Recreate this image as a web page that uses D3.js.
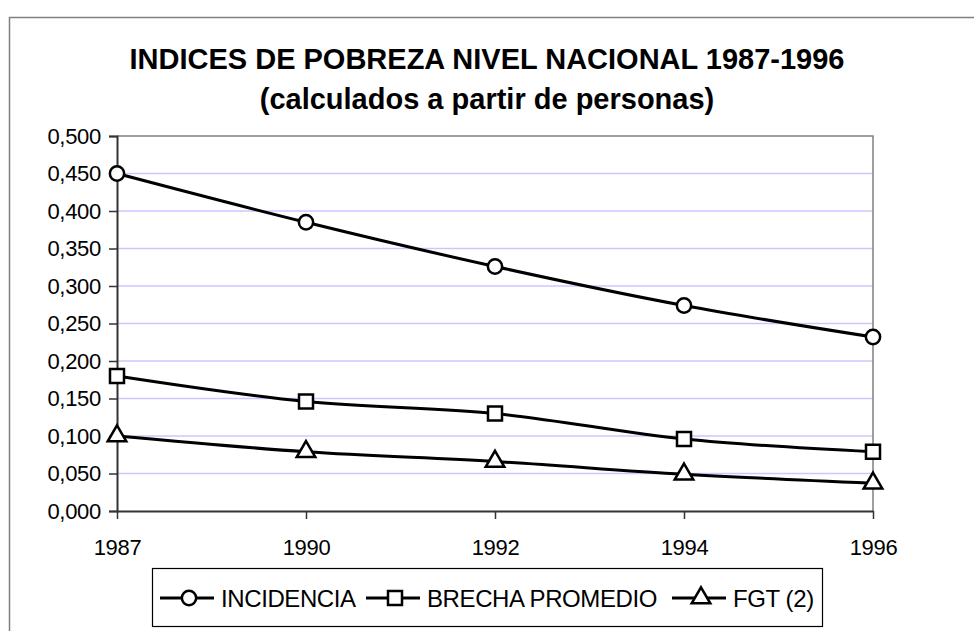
<!DOCTYPE html>
<html>
<head>
<meta charset="utf-8">
<script src="https://cdn.jsdelivr.net/npm/d3@7"></script>
<style>
  body { margin: 0; background: #fff; }
  svg { display: block; font-family: "Liberation Sans", Arial, sans-serif; }
</style>
</head>
<body>
<div id="chart"></div>
<script>
var years = ["1987", "1990", "1992", "1994", "1996"];
var incidencia = [0.450, 0.385, 0.326, 0.274, 0.232];
var brecha = [0.180, 0.146, 0.130, 0.096, 0.079];
var fgt = [0.100, 0.079, 0.066, 0.049, 0.037];
var seriesNames = ["INCIDENCIA", "BRECHA PROMEDIO", "FGT (2)"];
var yTicks = [0, 0.05, 0.1, 0.15, 0.2, 0.25, 0.3, 0.35, 0.4, 0.45, 0.5];

var series = [
    {name: seriesNames[0], values: incidencia, marker: "circle"},
    {name: seriesNames[1], values: brecha, marker: "square"},
    {name: seriesNames[2], values: fgt, marker: "triangle"}
];

var W = 974, H = 631;
var margin = {top: 136, left: 117},
    width = 756,
    height = 375;

var svg = d3.select('#chart').append('svg')
    .attr('width', W)
    .attr('height', H);

// outer chart border (runs off the right and bottom edge)
svg.append('rect')
    .attr('x', 9.5).attr('y', 17.5)
    .attr('width', W + 20).attr('height', H + 20)
    .attr('fill', 'none')
    .attr('stroke', '#808080')
    .attr('stroke-width', 1.5);

// title
var title = svg.append('text')
    .attr('text-anchor', 'middle')
    .attr('font-weight', 'bold')
    .attr('font-size', 29)
    .attr('fill', '#000');
title.append('tspan').attr('x', 487).attr('y', 69).text('INDICES DE POBREZA NIVEL NACIONAL 1987-1996');
title.append('tspan').attr('x', 487).attr('y', 109).text('(calculados a partir de personas)');

var g = svg.append('g')
    .attr('transform', 'translate(' + margin.left + ',' + margin.top + ')');

var x = d3.scalePoint()
    .domain(years)
    .range([0, width]);
var y = d3.scaleLinear()
    .domain([0, 0.5])
    .range([height, 0]);

// gridlines
g.selectAll('.grid')
    .data(yTicks.filter(d => d > 0 && d < 0.5))
    .enter().append('line')
    .attr('x1', 0).attr('x2', width)
    .attr('y1', d => y(d)).attr('y2', d => y(d))
    .attr('stroke', '#c8c8ff')
    .attr('stroke-width', 1.5);

// plot area border top / right
g.append('path')
    .attr('d', 'M0,' + y(0.5) + 'H' + width + 'V' + height)
    .attr('fill', 'none')
    .attr('stroke', '#808080')
    .attr('stroke-width', 1.5);

var fmt = d3.format('.3f');
var yAxis = g.append('g')
    .call(d3.axisLeft(y).tickValues(yTicks).tickSize(8).tickPadding(8)
        .tickFormat(d => fmt(d).replace('.', ',')));
yAxis.select('.domain').attr('stroke', '#333').attr('stroke-width', 2);
yAxis.selectAll('.tick line').attr('stroke', '#333').attr('stroke-width', 1.5);
yAxis.selectAll('.tick text').attr('font-size', 22).attr('letter-spacing', -0.3).attr('fill', '#000')
    .attr('font-family', '"Liberation Sans", Arial, sans-serif');

var xAxis = g.append('g')
    .attr('transform', 'translate(0,' + height + ')')
    .call(d3.axisBottom(x).tickSize(8).tickPadding(20).tickSizeOuter(0));
xAxis.select('.domain').attr('stroke', '#333').attr('stroke-width', 2);
xAxis.selectAll('.tick line').attr('stroke', '#333').attr('stroke-width', 1.5);
xAxis.selectAll('.tick text').attr('font-size', 22).attr('letter-spacing', -0.3).attr('fill', '#000')
    .attr('font-family', '"Liberation Sans", Arial, sans-serif');

var line = d3.line()
    .x((d, i) => x(years[i]))
    .y(d => y(d))
    .curve(d3.curveCardinal.tension(0));

var symbolPath = {
    circle: d3.symbol().type(d3.symbolCircle).size(160),
    square: d3.symbol().type(d3.symbolSquare).size(196),
    triangle: d3.symbol().type(d3.symbolTriangle).size(150)
};

series.forEach(function(s) {
    g.append('path')
        .datum(s.values)
        .attr('fill', 'none')
        .attr('stroke', '#000')
        .attr('stroke-width', 3)
        .attr('d', line);
    g.selectAll('.m-' + s.marker)
        .data(s.values)
        .enter().append('path')
        .attr('transform', (d, i) => 'translate(' + x(years[i]) + ',' + y(d) + ')')
        .attr('d', symbolPath[s.marker]())
        .attr('fill', '#fff')
        .attr('stroke', '#000')
        .attr('stroke-width', 2.5);
});

// legend
var legend = svg.append('g');
legend.append('rect')
    .attr('x', 152.5).attr('y', 568.5)
    .attr('width', 670).attr('height', 58)
    .attr('fill', '#fff')
    .attr('stroke', '#000')
    .attr('stroke-width', 1.2);

var legendX = [160, 366, 672];
series.forEach(function(s, i) {
    var lg = legend.append('g').attr('transform', 'translate(' + legendX[i] + ',598)');
    lg.append('line')
        .attr('x1', 0).attr('x2', 54)
        .attr('y1', 0).attr('y2', 0)
        .attr('stroke', '#000').attr('stroke-width', 3);
    lg.append('path')
        .attr('transform', 'translate(29,0)')
        .attr('d', symbolPath[s.marker]())
        .attr('fill', '#fff')
        .attr('stroke', '#000')
        .attr('stroke-width', 2.5);
    lg.append('text')
        .attr('x', 61).attr('y', 8.5)
        .attr('font-size', 24)
        .attr('letter-spacing', -0.4)
        .attr('fill', '#000')
        .text(s.name);
});
</script>
</body>
</html>
